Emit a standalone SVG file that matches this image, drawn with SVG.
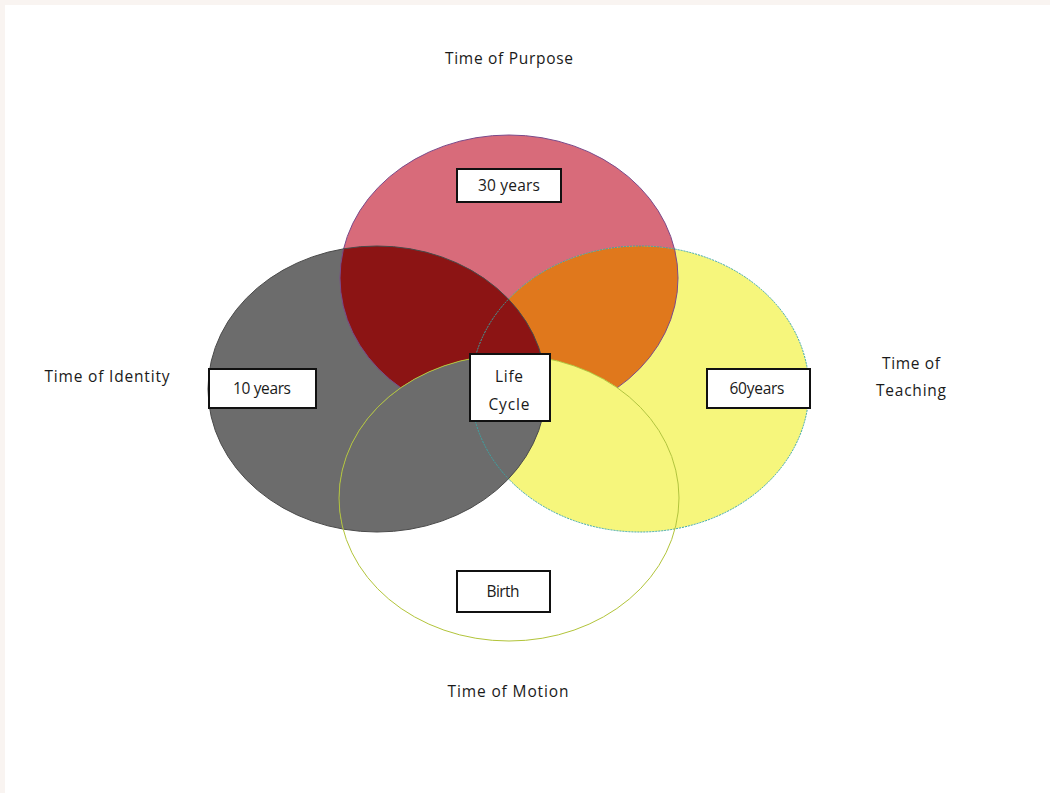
<svg xmlns="http://www.w3.org/2000/svg" width="1050" height="793" viewBox="0 0 1050 793">
<style>
.lbl{font-family:"Open Sans","Liberation Sans",sans-serif;font-size:15.5px;font-weight:500;fill:#1a1a1a;text-anchor:middle}
.box{fill:#ffffff;stroke:#111;stroke-width:2}
.btxt{font-family:"Open Sans","Liberation Sans",sans-serif;font-size:15.5px;font-weight:500;fill:#1a1a1a;text-anchor:middle}
</style>
<defs>
<ellipse id="ePurpose" cx="509" cy="278" rx="169" ry="143"/>
<ellipse id="eIdentity" cx="377" cy="389" rx="169" ry="143"/>
<ellipse id="eTeaching" cx="640" cy="389" rx="169" ry="143"/>
<ellipse id="eMotion" cx="509" cy="498" rx="170" ry="143"/>
<clipPath id="cPurpose"><use href="#ePurpose"/></clipPath>
<clipPath id="cMotion"><use href="#eMotion"/></clipPath>
<clipPath id="cOutMotion"><path clip-rule="evenodd" d="M0 0H1050V793H0Z M339 498a170 143 0 1 0 340 0a170 143 0 1 0 -340 0Z"/></clipPath>
</defs>
<rect x="0" y="0" width="1050" height="793" fill="#ffffff"/>
<rect x="0" y="0" width="1050" height="5" fill="#f9f4f1"/>
<rect x="0" y="0" width="5" height="793" fill="#f9f4f1"/>

<g id="circles">
<g id="purpose-circle"><use href="#ePurpose" fill="#d86b7a"/></g>
<g id="teaching-circle"><use href="#eTeaching" fill="#f6f67c"/>
<use href="#eTeaching" fill="#e0781c" clip-path="url(#cPurpose)"/></g>
<g id="identity-circle"><use href="#eIdentity" fill="#6c6c6c"/>
<use href="#eIdentity" fill="#8c1414" clip-path="url(#cPurpose)"/></g>
<g id="motion-circle"><use href="#eMotion" fill="#ffffff"/>
<use href="#eTeaching" fill="#f6f67c" clip-path="url(#cMotion)"/>
<use href="#eIdentity" fill="#6c6c6c" clip-path="url(#cMotion)"/></g>
<g id="outlines" fill="none" stroke-width="1">
<use href="#ePurpose" stroke="#7a4a8a" clip-path="url(#cOutMotion)"/>
<use href="#eTeaching" stroke="#3aa6a6" stroke-dasharray="2 1"/>
<use href="#eIdentity" stroke="#4a4a4a"/>
<use href="#eMotion" stroke="#b2c43a"/>
</g>
</g>

<g id="connectors"></g>

<g id="title-purpose"><text class="lbl" x="509" y="64" textLength="128" lengthAdjust="spacing">Time of Purpose</text></g>
<g id="title-identity"><text class="lbl" x="107" y="382" textLength="125" lengthAdjust="spacing">Time of Identity</text></g>
<g id="title-teaching"><text class="lbl" x="911" y="369" textLength="58" lengthAdjust="spacing">Time of</text><text class="lbl" x="911" y="396" textLength="70" lengthAdjust="spacing">Teaching</text></g>
<g id="title-motion"><text class="lbl" x="508" y="697" textLength="121" lengthAdjust="spacing">Time of Motion</text></g>

<g id="node-30"><rect class="box" x="457" y="169" width="104" height="33"/><text class="btxt" x="509" y="191" textLength="62" lengthAdjust="spacing">30 years</text></g>
<g id="node-10"><rect class="box" x="209" y="369" width="107" height="39"/><text class="btxt" x="262" y="394" textLength="58" lengthAdjust="spacing">10 years</text></g>
<g id="node-life"><rect class="box" x="470" y="354" width="80" height="67"/><text class="btxt" x="509" y="382" textLength="28" lengthAdjust="spacing">Life</text><text class="btxt" x="509" y="410" textLength="41" lengthAdjust="spacing">Cycle</text></g>
<g id="node-60"><rect class="box" x="707" y="369" width="103" height="39"/><text class="btxt" x="757" y="394" textLength="55" lengthAdjust="spacing">60years</text></g>
<g id="node-birth"><rect class="box" x="457" y="571" width="93" height="41"/><text class="btxt" x="503" y="597" textLength="33" lengthAdjust="spacing">Birth</text></g>
</svg>
